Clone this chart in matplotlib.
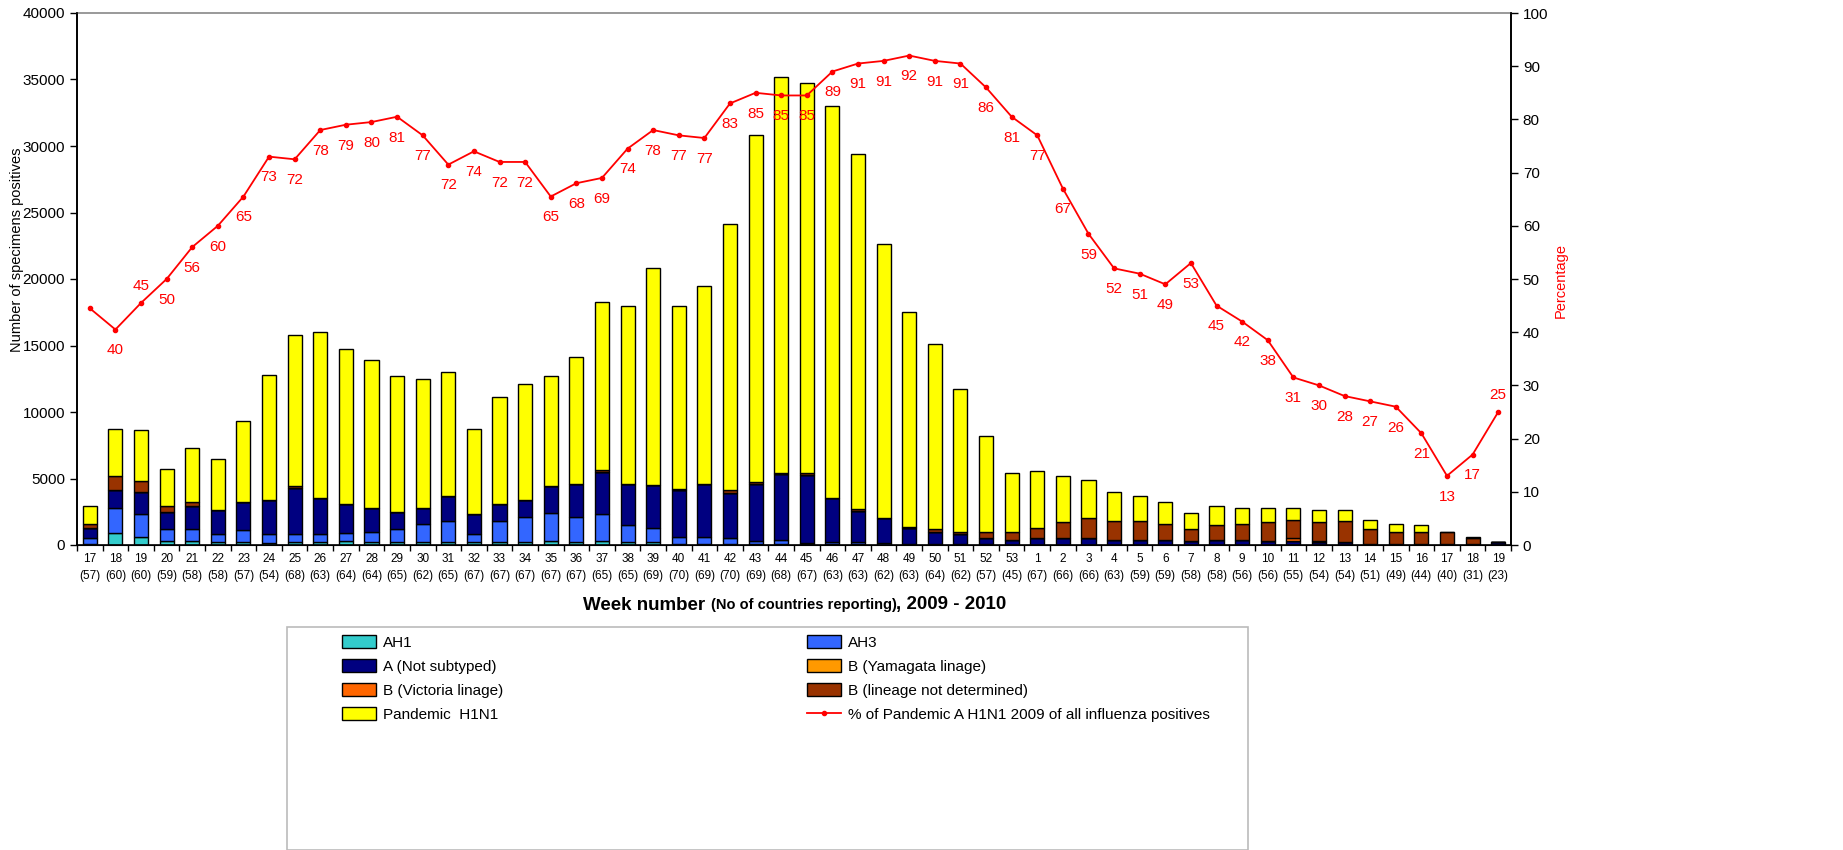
import matplotlib
matplotlib.use("Agg")
import matplotlib.pyplot as plt
from matplotlib.patches import Rectangle, Patch
from matplotlib.lines import Line2D
import numpy as np

plt.rcParams['font.family'] = ['Liberation Sans', 'DejaVu Sans']

weeks = [str(w) for w in range(17, 54)] + [str(w) for w in range(1, 20)]
countries = [57, 60, 60, 59, 58, 58, 57, 54, 68, 63, 64, 64, 65, 62, 65, 67, 67, 67, 67, 67,
             65, 65, 69, 70, 69, 70, 69, 68, 67, 63, 63, 62, 63, 64, 62, 57, 45,
             67, 66, 66, 63, 59, 59, 58, 58, 56, 56, 55, 54, 54, 51, 49, 44, 40, 31, 23]

ah1 = [100, 900, 600, 300, 300, 200, 200, 150, 200, 200, 300, 200, 200, 200, 200, 200, 200, 200, 300, 200,
       300, 200, 200, 100, 100, 100, 100, 50, 50, 50, 50, 20, 20, 0, 0, 0, 0,
       0, 0, 0, 0, 0, 0, 0, 0, 0, 0, 0, 0, 0, 0, 0, 0, 0, 0, 0]
ah3 = [400, 1900, 1700, 900, 900, 600, 900, 700, 600, 600, 600, 800, 1000, 1400, 1600, 600, 1600, 1900, 2100, 1900,
       2000, 1300, 1100, 500, 500, 400, 200, 300, 100, 150, 200, 100, 50, 100, 100, 100, 0,
       0, 0, 0, 0, 0, 0, 0, 0, 0, 0, 0, 0, 0, 0, 0, 0, 0, 0, 0]
a_ns = [800, 1300, 1700, 1300, 1700, 1800, 2100, 2500, 3500, 2700, 2200, 1800, 1300, 1200, 1900, 1500, 1300, 1300, 2000, 2500,
        3200, 3100, 3200, 3500, 4000, 3400, 4300, 5000, 5100, 3300, 2300, 1900, 1200, 900, 700, 400, 400,
        500, 500, 500, 400, 400, 400, 300, 400, 400, 300, 300, 200, 200, 100, 100, 100, 50, 100, 250]
b_yam = [0] * 56
b_vic = [0] * 47 + [200, 100] + [0] * 7
b_lnd = [250, 1100, 800, 400, 300, 50, 50, 50, 100, 0, 0, 0, 0, 0, 0, 0, 0, 0, 0, 0,
         150, 0, 0, 100, 0, 200, 100, 100, 150, 0, 150, 0, 100, 200, 200, 500, 600,
         800, 1200, 1500, 1400, 1400, 1200, 900, 1100, 1200, 1400, 1400, 1400, 1600, 1100, 900, 900, 900, 400, 0]
pandemic = [1350, 3500, 3850, 2800, 4100, 3850, 6050, 9400, 11400, 12500, 11600, 11100, 10200, 9700, 9300, 6400, 8000, 8700, 8300, 9500,
            12650, 13400, 16300, 13800, 14900, 20000, 26100, 29750, 29300, 29500, 26700, 20580, 16130, 13900, 10700, 7200, 4400,
            4300, 3500, 2900, 2200, 1900, 1600, 1200, 1400, 1200, 1100, 900, 900, 800, 700, 600, 500, 50, 100, 0]
pct = [44.5, 40.5, 45.5, 50, 56, 60, 65.5, 73, 72.5, 78, 79, 79.5, 80.5, 77, 71.5, 74, 72, 72, 65.5, 68,
       69, 74.5, 78, 77, 76.5, 83, 85, 84.5, 84.5, 89, 90.5, 91, 92, 91, 90.5, 86, 80.5,
       77, 67, 58.5, 52, 51, 49, 53, 45, 42, 38.5, 31.5, 30, 28, 27, 26, 21, 13, 17, 25]
pct_labels = [None, '40', '45', '50', '56', '60', '65', '73', '72', '78', '79', '80', '81', '77', '72', '74', '72', '72', '65', '68',
              '69', '74', '78', '77', '77', '83', '85', '85', '85', '89', '91', '91', '92', '91', '91', '86', '81',
              '77', '67', '59', '52', '51', '49', '53', '45', '42', '38', '31', '30', '28', '27', '26', '21', '13', '17', '25']

series = [("AH1", ah1, "#33CCCC"),
          ("AH3", ah3, "#3366FF"),
          ("A (Not subtyped)", a_ns, "#000080"),
          ("B (Yamagata linage)", b_yam, "#FF9900"),
          ("B (Victoria linage)", b_vic, "#FF6600"),
          ("B (lineage not determined)", b_lnd, "#993300"),
          ("Pandemic  H1N1", pandemic, "#FFFF00")]

W, H = 1843, 850
fig = plt.figure(figsize=(W / 100, H / 100), dpi=100)
ax = fig.add_axes([77 / W, 1 - 545 / H, (1511 - 77) / W, (545 - 13) / H])

x = np.arange(len(weeks))
bottom = np.zeros(len(weeks))
handles = {}
for name, vals, col in series:
    v = np.array(vals, dtype=float)
    ax.bar(x, v, 0.55, bottom=bottom, color=col, edgecolor='black', linewidth=1.0, zorder=2)
    handles[name] = Patch(facecolor=col, edgecolor='black', linewidth=1.0)
    bottom += v

ax.set_xlim(-0.5, len(weeks) - 0.5)
ax.set_ylim(0, 40000)
ax.set_yticks(np.arange(0, 40001, 5000))
ax.tick_params(axis='y', labelsize=11, direction='out', length=5, width=1)
ax.set_xticks(x)
ax.set_xticklabels([f"{w}\n({c})" for w, c in zip(weeks, countries)], fontsize=8.5, linespacing=1.5)
ax.tick_params(axis='x', length=0, pad=6)
ax.set_xticks(np.arange(-0.5, len(weeks), 1), minor=True)
ax.tick_params(axis='x', which='minor', length=4, width=1, direction='out')
for s in ['left', 'bottom', 'right']:
    ax.spines[s].set_linewidth(1.2)
ax.spines['top'].set_color('#888888')
ax.spines['top'].set_linewidth(1.2)
fig.text(17 / W, 1 - 250 / H, "Number of specimens positives", rotation=90, fontsize=10.5,
         ha='center', va='center')

ax2 = ax.twinx()
ax2.set_ylim(0, 100)
ax2.set_yticks(np.arange(0, 101, 10))
ax2.tick_params(axis='y', labelsize=11, direction='out', length=5, width=1)
ax2.plot(x, pct, color='#FF0000', lw=1.3, marker='o', markersize=3, zorder=5)
for s in ['left', 'right']:
    ax2.spines[s].set_linewidth(1.2)
ax2.spines['top'].set_visible(False)
fig.text(1561 / W, 1 - 280 / H, "Percentage", rotation=90, fontsize=10.5, color='#FF0000',
         ha='center', va='center')

for i, (p, lab) in enumerate(zip(pct, pct_labels)):
    if lab is None:
        continue
    if i in (2, len(pct) - 1):
        dy = 12
    else:
        dy = -15
    ax2.annotate(lab, (i, p), xytext=(0, dy), textcoords='offset points',
                 ha='center', va='center', color='#FF0000', fontsize=11)

# x label with mixed sizes
fig.canvas.draw()
r = fig.canvas.get_renderer()
parts = [("Week number ", 13.5), ("(No of countries reporting)", 10.5), (", 2009 - 2010", 13.5)]
ts = []
for txt, fs in parts:
    t = fig.text(0, 1 - 605 / H, txt, fontsize=fs, fontweight='bold', va='center', ha='left')
    ts.append(t)
widths = [t.get_window_extent(renderer=r).width for t in ts]
xpos = 795 - sum(widths) / 2
for t, w in zip(ts, widths):
    t.set_x(xpos / W)
    xpos += w

# legend frame
fig.patches.append(Rectangle((287 / W, 0), (1248 - 287) / W, (H - 627) / H, transform=fig.transFigure,
                             facecolor='white', edgecolor='#BBBBBB', linewidth=1.2, zorder=0))
line_handle = Line2D([], [], color='#FF0000', lw=1.3, marker='o', markersize=3)
col1 = ["AH1", "A (Not subtyped)", "B (Victoria linage)", "Pandemic  H1N1"]
col2 = ["AH3", "B (Yamagata linage)", "B (lineage not determined)"]
lkw = dict(frameon=False, fontsize=11, handlelength=2.2, handleheight=0.9, handletextpad=0.5,
           labelspacing=0.62, loc='upper left', borderaxespad=0)
leg1 = fig.legend([handles[n] for n in col1], col1, bbox_to_anchor=(336 / W, 1 - 629 / H), **lkw)
leg2 = fig.legend([handles[n] for n in col2] + [line_handle],
                  col2 + ["% of Pandemic A H1N1 2009 of all influenza positives"],
                  bbox_to_anchor=(801 / W, 1 - 629 / H), **lkw)

fig.savefig("out.png", dpi=100)
